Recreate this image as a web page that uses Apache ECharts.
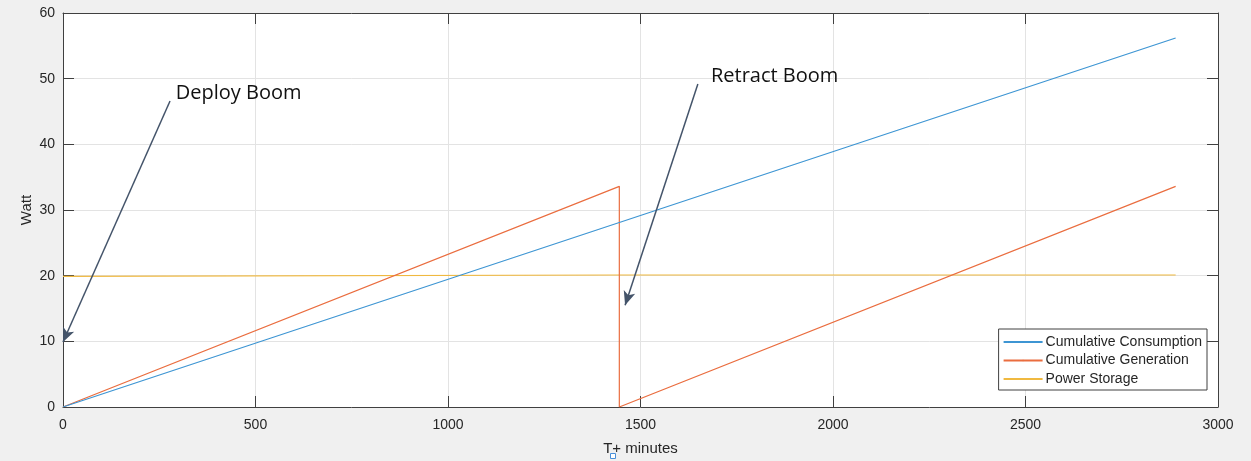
<!doctype html>
<html>
<head>
<meta charset="UTF-8">
<title>Power budget</title>
<script src="https://cdn.jsdelivr.net/npm/echarts@6/dist/echarts.min.js"></script>
<style>
  html, body { margin: 0; padding: 0; background: #f0f0f0; }
  #main { width: 1251px; height: 461px; }
</style>
</head>
<body>
<div id="main"></div>
<script>
// time in minutes (T+), the orbit reset happens near 1445
var minutes = [0, 1445, 1445, 2890];
var consumption = [0, 28.1, 28.1, 56.2];
var generation = [0, 33.6, 0, 33.6];
var storage = [19.9, 20.1, 19.9, 20.1];

// annotation arrows: [from x, from y, to x, to y] in data units
var deployArrow = [278, 46.6, 0, 9.9];
var retractArrow = [1649, 49.2, 1460, 15.5];
var notes = [
  { text: 'Deploy Boom', at: [293, 47.8] },
  { text: 'Retract Boom', at: [1683, 50.3] }
];

function pairs(xs, ys) {
  var res = [];
  for (var i = 0; i < xs.length; i++) res.push([xs[i], ys[i]]);
  return res;
}

var axisColor = '#404040';
var labelColor = '#262626';

var chart = echarts.init(document.getElementById('main'));
var option = {
  animation: false,
  backgroundColor: '#f0f0f0',
  textStyle: { fontFamily: 'Liberation Sans, Arial, sans-serif' },
  grid: { left: 63, right: 33, top: 13, bottom: 54, show: true, backgroundColor: '#ffffff', borderWidth: 0 },
  legend: {
    orient: 'vertical',
    right: 44, bottom: 71,
    backgroundColor: '#ffffff',
    borderColor: '#404040', borderWidth: 1, borderRadius: 0,
    padding: [6, 5, 4, 4],
    itemWidth: 39, itemHeight: 2, itemGap: 4.5,
    textStyle: { fontSize: 14, lineHeight: 14, color: labelColor, padding: [0, 0, 0, -2] },
    data: ['Cumulative Consumption', 'Cumulative Generation', 'Power Storage']
  },
  xAxis: [{
    type: 'value', min: 0, max: 3000, interval: 500,
    name: 'T+ minutes', nameLocation: 'middle', nameGap: 34, nameMoveOverlap: false,
    nameTextStyle: { fontSize: 15, color: labelColor },
    axisLine: { show: true, onZero: false, lineStyle: { color: axisColor, width: 1 } },
    axisTick: { show: true, inside: true, length: 11, lineStyle: { color: axisColor } },
    axisLabel: { fontSize: 14, color: labelColor, margin: 11, formatter: function (v) { return String(v); } },
    splitLine: { show: true, lineStyle: { color: '#e3e3e3' } }
  }, {
    type: 'value', min: 0, max: 3000, interval: 500, position: 'top',
    axisLine: { show: true, onZero: false, lineStyle: { color: axisColor, width: 1 } },
    axisTick: { show: true, inside: true, length: 11, lineStyle: { color: axisColor } },
    axisLabel: { show: false }, splitLine: { show: false }
  }],
  yAxis: [{
    type: 'value', min: 0, max: 60, interval: 10,
    name: 'Watt', nameLocation: 'middle', nameGap: 29, nameMoveOverlap: false,
    nameTextStyle: { fontSize: 15, color: labelColor },
    axisLine: { show: true, onZero: false, lineStyle: { color: axisColor, width: 1 } },
    axisTick: { show: true, inside: true, length: 11, lineStyle: { color: axisColor } },
    axisLabel: { fontSize: 14, color: labelColor, margin: 8 },
    splitLine: { show: true, lineStyle: { color: '#e3e3e3' } }
  }, {
    type: 'value', min: 0, max: 60, interval: 10, position: 'right',
    axisLine: { show: true, onZero: false, lineStyle: { color: axisColor, width: 1 } },
    axisTick: { show: true, inside: true, length: 11, lineStyle: { color: axisColor } },
    axisLabel: { show: false }, splitLine: { show: false }
  }],
  series: [
    {
      name: 'Cumulative Consumption', type: 'line', symbol: 'none',
      data: pairs(minutes, consumption),
      lineStyle: { color: '#3d95d3', width: 1.2 }, itemStyle: { color: '#3d95d3' },
      markLine: {
        silent: true, symbol: ['none', 'arrow'], symbolSize: [9, 14],
        label: { show: false },
        lineStyle: { color: '#44546a', width: 1.5, type: 'solid' },
        data: [
          [{ coord: [deployArrow[0], deployArrow[1]] }, { coord: [deployArrow[2], deployArrow[3]] }],
          [{ coord: [retractArrow[0], retractArrow[1]] }, { coord: [retractArrow[2], retractArrow[3]] }]
        ]
      },
      z: 3
    },
    {
      name: 'Cumulative Generation', type: 'line', symbol: 'none',
      data: pairs(minutes, generation),
      lineStyle: { color: '#ea6d3f', width: 1.2 }, itemStyle: { color: '#ea6d3f' },
      z: 2
    },
    {
      name: 'Power Storage', type: 'line', symbol: 'none',
      data: pairs(minutes, storage),
      lineStyle: { color: '#f0b940', width: 1.2 }, itemStyle: { color: '#f0b940' },
      z: 1
    }
  ]
};
chart.setOption(option);

// place annotation text at data positions
var texts = notes.map(function (n) {
  var p = chart.convertToPixel({ gridIndex: 0 }, n.at);
  return {
    type: 'text', x: p[0], y: p[1], z: 10,
    style: {
      text: n.text, fill: '#111111',
      font: '20px "Open Sans", "Noto Sans", sans-serif',
      textVerticalAlign: 'middle'
    }
  };
});
texts.push({
  type: 'rect', z: 10,
  shape: { x: 610.5, y: 453.5, width: 5, height: 5 },
  style: { fill: '#ffffff', stroke: '#4a90d9', lineWidth: 1 }
});
chart.setOption({ graphic: texts });
</script>
</body>
</html>
